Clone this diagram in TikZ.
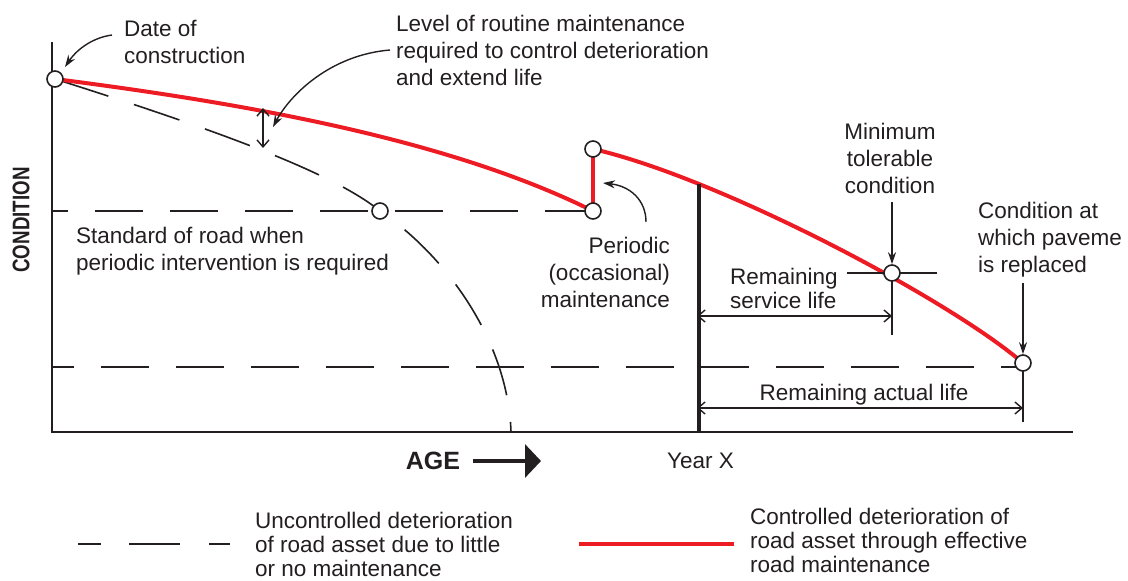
\documentclass[tikz,border=0pt]{standalone}
\usepackage{fontspec}
\setmainfont{Liberation Sans}
\usetikzlibrary{arrows.meta}
\definecolor{ink}{RGB}{35,31,32}
\definecolor{roadred}{RGB}{237,28,36}
\begin{document}
\begin{tikzpicture}[x=1pt,y=-1pt,
  every node/.style={text=ink},
  lbl/.style={inner sep=0pt,font=\fontsize{22.5}{27}\selectfont},
  lblsmall/.style={inner sep=0pt,font=\fontsize{22.5}{24}\selectfont},
  axis/.style={draw=ink,line width=2pt},
  dashline/.style={draw=ink,line width=1.6pt,dash pattern=on 48pt off 27pt},
  redline/.style={draw=roadred,line width=4pt},
  thin/.style={draw=ink,line width=1.4pt},
  pointer/.style={thin,-{Stealth[length=12pt,width=8pt]}},
  dim/.style={thin,{Straight Barb[length=7pt,width=12pt]}-{Straight Barb[length=7pt,width=12pt]}},
  dot/.style={circle,draw=ink,fill=white,line width=1.6pt,minimum size=16pt,inner sep=0pt}
]
\useasboundingbox (0,0) rectangle (1128,581);

% key points
\coordinate (p0) at (55,79);
\coordinate (p1) at (380,211);
\coordinate (p2) at (593,211);
\coordinate (p3) at (593,149);
\coordinate (p4) at (892,273);
\coordinate (p5) at (1023,363);
\coordinate (ax0) at (52,42);
\coordinate (org) at (52,432);
\coordinate (axend) at (1073,432);
\coordinate (dashend) at (511,432);

% axes
\draw[axis] (ax0) -- (org) -- (axend);

% horizontal dashed levels
\draw[dashline,dash phase=32pt] (52,211) -- (p2);
\draw[dashline,dash phase=26pt] (52,367) -- (1023,367);

% uncontrolled deterioration curve
\draw[dashline,dash phase=-8pt] (p0) .. controls (200,125) and (330,170) .. (p1)
   .. controls (445,255) and (508,340) .. (dashend);

% controlled deterioration
\draw[redline] (p0) .. controls (250,104) and (450,140) .. (p2);
\draw[redline] (p2) -- (p3);
\draw[redline] (p3) .. controls (720,178) and (950,300) .. (p5)
   coordinate[pos=0.24] (yx);

% year X line
\coordinate (yxbot) at (yx |- org);
\draw[draw=ink,line width=4pt] (yx) -- (yxbot);

% routine maintenance double arrow
\coordinate (rm1) at (263,108);
\coordinate (rm2) at (263,148);
\draw[dim] (rm1) -- (rm2);

% crosshair at minimum tolerable
\draw[thin] (847,273) -- (p4) -- (937,273);
\draw[thin] (p4) -- (892,335);
% tick at replacement point
\draw[thin] (p5) -- (1023,422);

% dimension arrows
\coordinate (s1) at (697,316);
\coordinate (s2) at (892,316);
\coordinate (a1) at (697,408);
\coordinate (a2) at (1023,408);
\draw[dim] (s1) -- (s2);
\draw[dim] (a1) -- (a2);

% circles
\node[dot] (c0) at (p0) {};
\node[dot] (c1) at (p1) {};
\node[dot] (c2) at (p2) {};
\node[dot] (c3) at (p3) {};
\node[dot] (c4) at (p4) {};
\node[dot] (c5) at (p5) {};

% labels
\node[lbl,anchor=north west,align=left] (tdate) at (124,20.5) {Date of\\construction};
\node[lbl,anchor=north west,align=left] (tlevel) at (396,14.5) {Level of routine maintenance\\required to control deterioration\\and extend life};
\node[lbl,anchor=north west,align=left] (tstd) at (76,226.5) {Standard of road when\\periodic intervention is required};
\node[lbl,anchor=north east,align=right] (tper) at (670,236.5) {Periodic\\(occasional)\\maintenance};
\node[lbl,anchor=north,align=center] (tmin) at (890,122.5) {Minimum\\tolerable\\condition};
\node[lbl,anchor=north west,align=left] (trep) at (978,201.5) {Condition at\\which paveme\\is replaced};
\node[lblsmall,anchor=north west,align=left] (tserv) at (730,267.5) {Remaining\\service life};
\node[lbl,anchor=base] (tact) at (864,400) {Remaining actual life};
\node[lbl,anchor=base west] (tyear) at (667,468) {Year X};
\node[inner sep=0pt,font=\fontsize{25}{30}\selectfont\bfseries,anchor=base] (tage) at (433,469) {AGE};
\node[inner sep=0pt,font=\fontsize{24}{30}\selectfont\bfseries,rotate=90] (tcond) at (21,220) {\scalebox{0.78}[1]{CONDITION}};

% pointers
\coordinate (d1) at (112,35);
\coordinate (d2) at (65,67);
\draw[pointer] (d1) .. controls (90,38) and (75,52) .. (d2);
\coordinate (l1) at (390,50);
\coordinate (l2) at (273,127);
\draw[pointer] (l1) .. controls (330,55) and (290,95) .. (l2);
\coordinate (q1) at (646,222);
\coordinate (q2) at (603,183);
\draw[pointer] (q1) .. controls (646,200) and (630,186) .. (q2);
\coordinate (m1) at (892,202);
\draw[pointer] (m1) -- (c4.north);
\coordinate (r1) at (1023,283);
\draw[pointer] (r1) -- (c5.north);

% AGE arrow
\coordinate (ag1) at (473,461);
\coordinate (ag2) at (541,461);
\draw[draw=ink,line width=3.5pt,-{Triangle[length=16pt,width=33pt]}] (ag1) -- (ag2);

% legend
\coordinate (lg1) at (78,544);
\coordinate (lg2) at (230,544);
\draw[draw=ink,line width=1.8pt,dash pattern=on 23pt off 28pt on 51pt off 29pt on 30pt] (lg1) -- (lg2);
\node[lblsmall,anchor=north west,align=left] (tleg1) at (255,511.5) {Uncontrolled deterioration\\of road asset due to little\\or no maintenance};
\coordinate (lr1) at (579,544);
\coordinate (lr2) at (734,544);
\draw[redline] (lr1) -- (lr2);
\node[lblsmall,anchor=north west,align=left] (tleg2) at (750,507.5) {Controlled deterioration of\\road asset through effective\\road maintenance};
\end{tikzpicture}
\end{document}
